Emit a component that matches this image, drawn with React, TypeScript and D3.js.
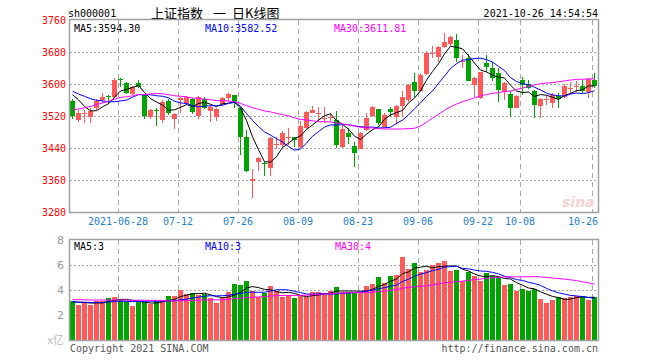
import React from 'react';
import * as d3 from 'd3';

// ---- data ----
const opens = [3557,3510,3525,3518,3539,3560,3569,3567,3612,3603,3575,3603,3572,3518,3535,3510,3558,3512,3560,3550,3562,3520,3562,3533,3518,3549,3564,3572,3541,3468,3357,3406,3403,3389,3447,3448,3465,3467,3442,3489,3528,3526,3515,3516,3510,3442,3478,3445,3437,3485,3520,3537,3493,3537,3518,3545,3560,3606,3583,3624,3675,3668,3693,3700,3710,3656,3664,3597,3566,3652,3639,3627,3581,3575,3541,3610,3600,3582,3546,3560,3553,3571,3568,3588,3594,3595,3581,3610];
const highs = [3562,3535,3535,3539,3562,3578,3573,3616,3616,3605,3595,3610,3573,3537,3539,3560,3562,3527,3568,3570,3564,3569,3567,3547,3539,3568,3578,3572,3543,3485,3387,3418,3406,3467,3468,3483,3489,3467,3508,3532,3545,3542,3542,3527,3532,3497,3489,3456,3479,3528,3545,3538,3528,3542,3547,3583,3600,3628,3628,3682,3696,3696,3727,3721,3724,3672,3674,3618,3631,3672,3656,3639,3606,3582,3572,3618,3610,3585,3564,3571,3578,3577,3599,3606,3607,3610,3614,3627];
const lows = [3513,3506,3503,3503,3536,3552,3550,3566,3593,3574,3572,3589,3513,3513,3496,3502,3522,3487,3527,3548,3525,3512,3537,3506,3507,3547,3556,3541,3422,3381,3314,3383,3371,3371,3437,3443,3448,3442,3439,3487,3527,3506,3503,3508,3439,3439,3449,3393,3437,3483,3517,3497,3489,3518,3498,3520,3556,3568,3581,3622,3664,3656,3691,3696,3656,3639,3607,3568,3562,3631,3607,3556,3560,3518,3539,3572,3587,3516,3516,3547,3541,3539,3566,3574,3581,3577,3564,3589];
const closes = [3520,3528,3527,3533,3558,3568,3567,3610,3610,3577,3593,3593,3520,3535,3533,3556,3528,3525,3566,3567,3531,3567,3539,3543,3537,3566,3575,3552,3468,3383,3362,3414,3401,3464,3450,3478,3467,3460,3495,3531,3535,3527,3516,3518,3448,3487,3467,3428,3477,3514,3542,3503,3522,3531,3545,3568,3597,3583,3622,3678,3677,3693,3706,3717,3666,3658,3607,3614,3629,3643,3616,3585,3602,3539,3571,3597,3590,3547,3563,3562,3572,3563,3595,3590,3596,3583,3612,3595];
const volumes = [3.12,2.8,2.96,2.8,3.12,3.12,3.36,3.44,3.2,3.12,2.72,3.04,3.04,2.88,3.12,3.2,3.52,3.52,4.0,3.68,3.76,3.6,3.68,3.36,2.96,3.36,3.84,4.48,4.4,4.72,3.92,3.44,3.76,4.32,3.92,3.44,3.6,3.36,3.52,3.44,3.84,3.84,3.76,3.92,4.24,3.84,3.84,3.76,3.84,4.32,4.48,5.04,4.56,5.12,5.2,6.64,5.68,6.16,5.44,5.6,6.0,6.16,6.32,5.52,5.6,4.72,5.44,5.12,4.72,5.36,5.12,5.04,4.4,4.48,3.92,4.08,3.92,4.08,3.28,2.96,3.2,3.44,3.36,3.44,3.52,3.52,3.2,3.44];
// closes / volumes of the days before the visible window (for moving averages)
const prevCloses = [3447,3441,3418,3428,3441,3462,3430,3490,3517,3529,3510,3507,3487,3497,3581,3593,3609,3600,3615,3624,3597,3584,3592,3599,3580,3591,3610,3589,3556];
const prevVolumes = [3.1,3.3,3.4,3.0,3.2,3.5,3.3,3.1,3.4,3.2,2.9,3.0,3.1,3.0,4.2,4.1,3.6,3.3,3.2,3.4,3.3,3.0,3.1,3.0,3.2,2.9,3.1,3.0,3.1];

const tickLabels = ['2021-06-28','07-12','07-26','08-09','08-23','09-06','09-22','10-08','10-26'];
const tickIndex = [8,18,28,38,48,58,68,75,87];
const priceTicks = [3760,3680,3600,3520,3440,3360,3280];
const volTicks = [8,6,4,2];
const maLegend = ['MA5:3594.30','MA10:3582.52','MA30:3611.81'];
const volLegend = ['MA5:3','MA10:3','MA30:4'];
const titleParts = ['上证指数','一','日K线图'];
const maPeriods = [5,10,30];

const RED = '#ff5a5a';
const GREEN = '#00a400';
const MA_COLORS = ['#000000','#0000ff','#ff00ff'];
const MONO = '"DejaVu Sans Mono", "Liberation Mono", monospace';

function movingAvg(prev: number[], vals: number[], n: number): number[] {
  const all = prev.concat(vals);
  const off = prev.length;
  return vals.map((_, i) => d3.mean(all.slice(off + i - n + 1, off + i + 1)) as number);
}

export default function App() {
  const W = 660, H = 360;
  const left = 70, right = 598;
  const pTop = 20, pBot = 212;
  const vTop = 240, vBot = 340;
  const n = closes.length;
  const x = d3.scaleLinear().domain([0, n]).range([left, right]);
  const yP = d3.scaleLinear().domain([3280, 3760]).range([pBot, pTop]);
  const yV = d3.scaleLinear().domain([0, 8]).range([vBot, vTop]);
  const bw = 5;
  const cx = (i: number) => x(i) + 2.5;

  const priceMA = maPeriods.map(p => movingAvg(prevCloses, closes, p));
  const volMA = maPeriods.map(p => movingAvg(prevVolumes, volumes, p));
  const lineP = d3.line<number>().x((_, i) => cx(i)).y(d => yP(d));
  const lineV = d3.line<number>().x((_, i) => cx(i)).y(d => yV(d));

  const gridC = '#aaaaaa';

  return (
    <svg width={W} height={H} style={{ position: 'absolute', left: 0, top: 0, background: '#fff' }}
      fontFamily={MONO} fontSize={10}>
      {/* header */}
      <text x={68} y={17} fill="#000">sh000001</text>
      {titleParts.map((t, k) => (
        <text key={'tt' + k} x={[151, 213, 232][k]} y={18} fontFamily='"Noto Sans CJK SC", sans-serif' fontSize={13} fill="#000">{t}</text>
      ))}
      <text x={598} y={17} textAnchor="end" fill="#000">2021-10-26 14:54:54</text>

      {/* price grid */}
      {priceTicks.slice(1, -1).map(t => (
        <line key={'hg' + t} x1={left} x2={right} y1={Math.round(yP(t)) + 0.5} y2={Math.round(yP(t)) + 0.5}
          stroke={gridC} strokeDasharray="2,2" />
      ))}
      {tickIndex.map(i => (
        <line key={'vg' + i} x1={x(i) + 0.5} x2={x(i) + 0.5} y1={pTop} y2={pBot} stroke={gridC} strokeDasharray="5,4" />
      ))}
      {priceTicks.map(t => (
        <text key={'pl' + t} x={66} y={yP(t) + 4} textAnchor="end" fill="#ff0000">{t}</text>
      ))}

      {/* watermark */}
      <text x={562} y={207} fontFamily='"DejaVu Sans", sans-serif' fontSize={14} fontWeight="bold" fontStyle="italic" fill="#f6d2d2">sina</text>

      {/* candles */}
      {closes.map((c, i) => {
        const o = opens[i];
        const up = c >= o;
        const col = up ? RED : GREEN;
        const yTop = Math.round(yP(Math.max(o, c)));
        const yB = Math.round(yP(Math.min(o, c)));
        return (
          <g key={'c' + i}>
            <rect x={x(i) + 2} y={Math.round(yP(highs[i]))} width={1}
              height={Math.max(1, Math.round(yP(lows[i])) - Math.round(yP(highs[i])))} fill={col} />
            <rect x={x(i)} y={yTop} width={bw} height={Math.max(1, yB - yTop)} fill={col} />
          </g>
        );
      })}
      {priceMA.map((m, k) => (
        <path key={'pma' + k} d={lineP(m) as string} fill="none" stroke={MA_COLORS[k]} strokeWidth={1} />
      ))}
      <rect x={left - 0.5} y={pTop - 0.5} width={right - left + 1} height={pBot - pTop + 1} fill="none" stroke="#a0a0a0" strokeWidth={1.5} />
      {maLegend.map((t, k) => (
        <text key={'ml' + k} x={[74, 205, 334][k]} y={32} fill={MA_COLORS[k]}>{t}</text>
      ))}

      {/* date labels */}
      {tickIndex.map((i, k) => {
        const w = tickLabels[k].length * 6;
        const over = x(i) + w / 2 > right;
        return (
          <text key={'dl' + k} x={over ? right : x(i)} y={225} textAnchor={over ? 'end' : 'middle'} fill="#1f7fcf">{tickLabels[k]}</text>
        );
      })}

      {/* volume panel */}
      {volTicks.slice(1).map(t => (
        <line key={'vh' + t} x1={left} x2={right} y1={Math.round(yV(t)) + 0.5} y2={Math.round(yV(t)) + 0.5}
          stroke={gridC} strokeDasharray="2,2" />
      ))}
      {tickIndex.map(i => (
        <line key={'vv' + i} x1={x(i) + 0.5} x2={x(i) + 0.5} y1={vTop} y2={vBot} stroke={gridC} strokeDasharray="5,4" />
      ))}
      {volumes.map((v, i) => {
        const up = closes[i] >= opens[i];
        const yy = Math.round(yV(v));
        return <rect key={'v' + i} x={x(i)} y={yy} width={bw} height={vBot - yy} fill={up ? RED : GREEN} />;
      })}
      {volMA.map((m, k) => (
        <path key={'vma' + k} d={lineV(m) as string} fill="none" stroke={MA_COLORS[k]} strokeWidth={1} />
      ))}
      <rect x={left - 0.5} y={vTop - 0.5} width={right - left + 1} height={vBot - vTop + 1} fill="none" stroke="#a0a0a0" strokeWidth={1.5} />
      {volTicks.map(t => (
        <text key={'vl' + t} x={64} y={yV(t) + 4} textAnchor="end" fill="#999999" fontFamily='"DejaVu Sans", sans-serif' fontSize={11}>{t}</text>
      ))}
      <text x={64} y={344} textAnchor="end" fill="#bbbbbb" fontFamily='"Noto Sans CJK SC", sans-serif' fontSize={11}>x亿</text>
      {volLegend.map((t, k) => (
        <text key={'vlg' + k} x={[74, 205, 335][k]} y={250} fill={MA_COLORS[k]}>{t}</text>
      ))}

      {/* footer */}
      <text x={70} y={352} fill="#555555">Copyright 2021 SINA.COM</text>
      <text x={598} y={352} textAnchor="end" fill="#555555">http://finance.sina.com.cn</text>
    </svg>
  );
}
